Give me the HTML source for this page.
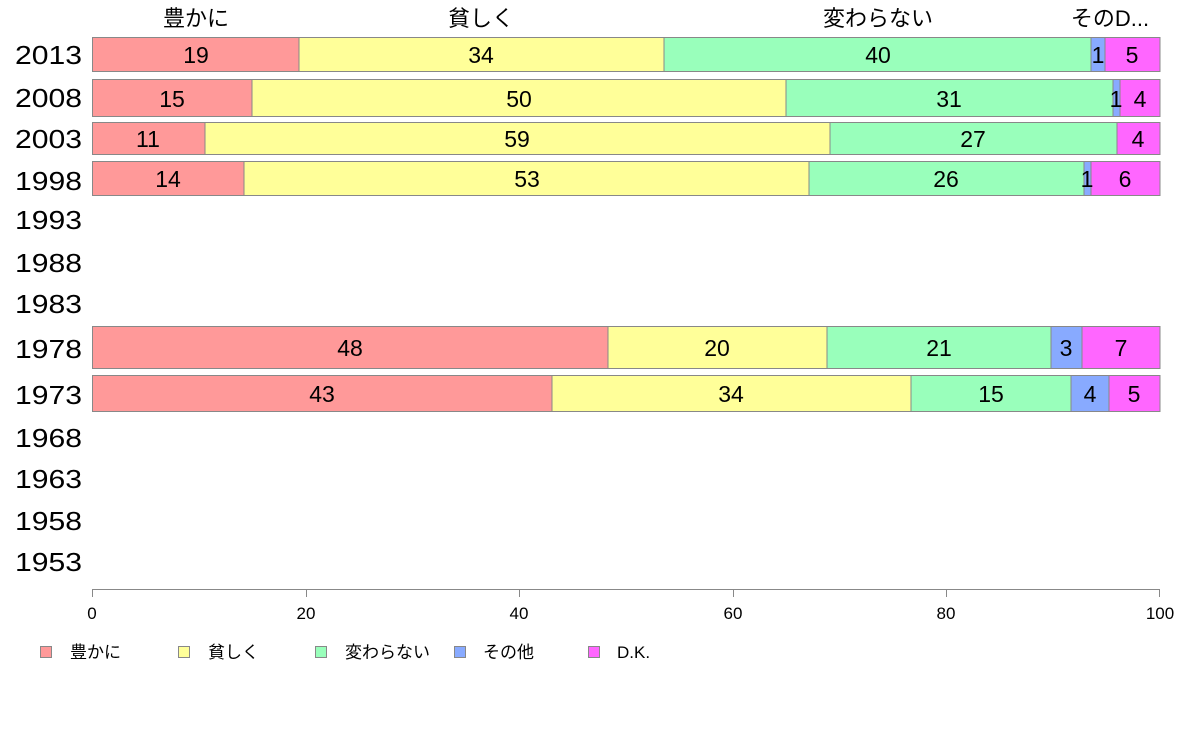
<!DOCTYPE html>
<html><head><meta charset="utf-8"><style>
body{margin:0;background:#fff;}
svg text{font-family:"Liberation Sans","Noto Sans CJK JP",sans-serif;}
</style></head><body>
<svg width="1188" height="736" xmlns="http://www.w3.org/2000/svg">
<g font-size="22" text-anchor="middle" fill="#000">
<text x="196" y="26">豊かに</text>
<text x="481" y="26">貧しく</text>
<text x="878" y="26">変わらない</text>
<text x="1110" y="26">そのD...</text>
</g>
<g font-size="26" fill="#000">
<text x="15" y="64" textLength="67" lengthAdjust="spacingAndGlyphs">2013</text>
<text x="15" y="107" textLength="67" lengthAdjust="spacingAndGlyphs">2008</text>
<text x="15" y="148" textLength="67" lengthAdjust="spacingAndGlyphs">2003</text>
<text x="15" y="190" textLength="67" lengthAdjust="spacingAndGlyphs">1998</text>
<text x="15" y="229" textLength="67" lengthAdjust="spacingAndGlyphs">1993</text>
<text x="15" y="272" textLength="67" lengthAdjust="spacingAndGlyphs">1988</text>
<text x="15" y="313" textLength="67" lengthAdjust="spacingAndGlyphs">1983</text>
<text x="15" y="358" textLength="67" lengthAdjust="spacingAndGlyphs">1978</text>
<text x="15" y="404" textLength="67" lengthAdjust="spacingAndGlyphs">1973</text>
<text x="15" y="447" textLength="67" lengthAdjust="spacingAndGlyphs">1968</text>
<text x="15" y="488" textLength="67" lengthAdjust="spacingAndGlyphs">1963</text>
<text x="15" y="530" textLength="67" lengthAdjust="spacingAndGlyphs">1958</text>
<text x="15" y="571" textLength="67" lengthAdjust="spacingAndGlyphs">1953</text>
</g>
<g stroke="#888" stroke-width="1">
<rect x="92.5" y="37.5" width="206.5" height="34" fill="#ff9999"/>
<rect x="299" y="37.5" width="365" height="34" fill="#ffff99"/>
<rect x="664" y="37.5" width="427" height="34" fill="#99ffbb"/>
<rect x="1091" y="37.5" width="14" height="34" fill="#88aaff"/>
<rect x="1105" y="37.5" width="55" height="34" fill="#ff66ff"/>
<rect x="92.5" y="79.5" width="159.5" height="37" fill="#ff9999"/>
<rect x="252" y="79.5" width="534" height="37" fill="#ffff99"/>
<rect x="786" y="79.5" width="327" height="37" fill="#99ffbb"/>
<rect x="1113" y="79.5" width="7" height="37" fill="#88aaff"/>
<rect x="1120" y="79.5" width="40" height="37" fill="#ff66ff"/>
<rect x="92.5" y="122.5" width="112.5" height="32" fill="#ff9999"/>
<rect x="205" y="122.5" width="625" height="32" fill="#ffff99"/>
<rect x="830" y="122.5" width="287" height="32" fill="#99ffbb"/>
<rect x="1117" y="122.5" width="43" height="32" fill="#ff66ff"/>
<rect x="92.5" y="161.5" width="151.5" height="34" fill="#ff9999"/>
<rect x="244" y="161.5" width="565" height="34" fill="#ffff99"/>
<rect x="809" y="161.5" width="275" height="34" fill="#99ffbb"/>
<rect x="1084" y="161.5" width="7" height="34" fill="#88aaff"/>
<rect x="1091" y="161.5" width="69" height="34" fill="#ff66ff"/>
<rect x="92.5" y="326.5" width="515.5" height="42" fill="#ff9999"/>
<rect x="608" y="326.5" width="219" height="42" fill="#ffff99"/>
<rect x="827" y="326.5" width="224" height="42" fill="#99ffbb"/>
<rect x="1051" y="326.5" width="31" height="42" fill="#88aaff"/>
<rect x="1082" y="326.5" width="78" height="42" fill="#ff66ff"/>
<rect x="92.5" y="375.5" width="459.5" height="36" fill="#ff9999"/>
<rect x="552" y="375.5" width="359" height="36" fill="#ffff99"/>
<rect x="911" y="375.5" width="160" height="36" fill="#99ffbb"/>
<rect x="1071" y="375.5" width="38" height="36" fill="#88aaff"/>
<rect x="1109" y="375.5" width="51" height="36" fill="#ff66ff"/>
</g>
<g font-size="23" text-anchor="middle" fill="#000">
<text x="196" y="63">19</text><text x="481" y="63">34</text><text x="878" y="63">40</text><text x="1098" y="63">1</text><text x="1132" y="63">5</text>
<text x="172" y="107">15</text><text x="519" y="107">50</text><text x="949" y="107">31</text><text x="1116" y="107">1</text><text x="1140" y="107">4</text>
<text x="148" y="147">11</text><text x="517" y="147">59</text><text x="973" y="147">27</text><text x="1138" y="147">4</text>
<text x="168" y="187">14</text><text x="527" y="187">53</text><text x="946" y="187">26</text><text x="1087" y="187">1</text><text x="1125" y="187">6</text>
<text x="350" y="356">48</text><text x="717" y="356">20</text><text x="939" y="356">21</text><text x="1066" y="356">3</text><text x="1121" y="356">7</text>
<text x="322" y="402">43</text><text x="731" y="402">34</text><text x="991" y="402">15</text><text x="1090" y="402">4</text><text x="1134" y="402">5</text>
</g>
<g stroke="#888" stroke-width="1">
<line x1="92" y1="589.5" x2="1160" y2="589.5"/>
<line x1="92.5" y1="589" x2="92.5" y2="597"/>
<line x1="306.5" y1="589" x2="306.5" y2="597"/>
<line x1="519.5" y1="589" x2="519.5" y2="597"/>
<line x1="733.5" y1="589" x2="733.5" y2="597"/>
<line x1="946.5" y1="589" x2="946.5" y2="597"/>
<line x1="1159.5" y1="589" x2="1159.5" y2="597"/>
</g>
<g font-size="17" text-anchor="middle" fill="#000">
<text x="92" y="619">0</text><text x="306" y="619">20</text><text x="519" y="619">40</text><text x="733" y="619">60</text><text x="946" y="619">80</text><text x="1160" y="619">100</text>
</g>
<g stroke="#888" stroke-width="1">
<rect x="40.5" y="646.5" width="11" height="11" fill="#ff9999"/>
<rect x="178.5" y="646.5" width="11" height="11" fill="#ffff99"/>
<rect x="315.5" y="646.5" width="11" height="11" fill="#99ffbb"/>
<rect x="454.5" y="646.5" width="11" height="11" fill="#88aaff"/>
<rect x="588.5" y="646.5" width="11" height="11" fill="#ff66ff"/>
</g>
<g font-size="17" fill="#000">
<text x="70" y="658">豊かに</text>
<text x="208" y="658">貧しく</text>
<text x="345" y="658">変わらない</text>
<text x="483" y="658">その他</text>
<text x="617" y="658">D.K.</text>
</g>
</svg>
</body></html>
